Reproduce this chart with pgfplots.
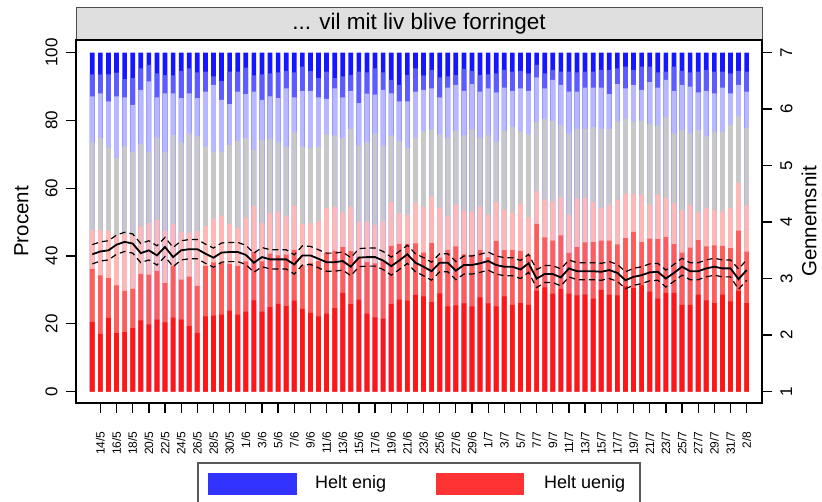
\documentclass[border=0pt]{standalone}
\usepackage{fontspec}
\setmainfont{Liberation Sans}
\usepackage{pgfplots}
\usepackage{pgfplotstable}
\pgfplotsset{compat=1.18}

% shades from "Helt uenig" (1) to "Helt enig" (7)
\definecolor{c1}{RGB}{255,22,22}
\definecolor{c2}{RGB}{255,92,92}
\definecolor{c3}{RGB}{255,184,184}
\definecolor{c4}{RGB}{200,200,200}
\definecolor{c5}{RGB}{184,184,255}
\definecolor{c6}{RGB}{92,92,255}
\definecolor{c7}{RGB}{22,22,255}
\definecolor{legblue}{RGB}{51,51,255}
\definecolor{legred}{RGB}{255,51,51}

% cumulative shares (b1..b6, top), daily mean and its interval
\pgfplotstableread{
x b1 b2 b3 b4 b5 b6 top m lo hi
0 20.5 36.1 47.7 73.5 87.1 93.6 100 3.43 3.26 3.60
1 17.0 34.3 47.7 74.8 88.0 93.6 100 3.48 3.31 3.65
2 21.7 33.5 47.4 72.0 85.6 93.6 100 3.50 3.33 3.67
3 17.2 31.3 46.1 68.9 87.1 94.1 100 3.60 3.43 3.77
4 17.5 29.7 46.5 72.3 86.8 92.2 100 3.65 3.48 3.82
5 18.7 30.3 46.3 70.8 84.6 92.5 100 3.62 3.45 3.79
6 21.0 34.7 48.7 73.1 89.0 95.4 100 3.45 3.28 3.62
7 19.8 34.5 49.7 70.8 91.5 96.4 100 3.50 3.33 3.67
8 21.2 35.6 50.7 75.0 86.8 93.9 100 3.41 3.24 3.58
9 20.4 32.0 47.4 70.8 88.0 93.4 100 3.56 3.39 3.73
10 21.8 37.1 49.4 75.7 88.0 93.3 100 3.38 3.21 3.55
11 21.2 33.0 47.1 73.5 86.6 94.6 100 3.50 3.33 3.67
12 19.4 33.9 46.8 76.2 88.0 95.4 100 3.52 3.35 3.69
13 17.3 31.2 47.4 75.3 86.6 94.2 100 3.52 3.35 3.69
14 22.2 37.1 48.8 72.3 88.5 94.4 100 3.44 3.27 3.61
15 22.4 38.1 50.9 70.6 90.5 93.0 100 3.37 3.20 3.54
16 22.7 37.9 51.9 70.8 86.1 91.7 100 3.46 3.29 3.63
17 23.9 37.7 49.4 72.8 84.8 94.4 100 3.47 3.30 3.64
18 22.7 37.1 48.4 74.0 88.5 94.4 100 3.47 3.30 3.64
19 23.6 38.4 51.3 74.8 87.8 95.6 100 3.42 3.25 3.59
20 26.9 41.2 54.8 71.3 88.5 93.3 100 3.28 3.11 3.45
21 23.6 38.4 49.8 74.3 86.1 93.6 100 3.38 3.21 3.55
22 24.9 40.7 52.7 74.6 87.1 93.9 100 3.34 3.17 3.51
23 25.9 40.2 53.0 73.6 86.6 94.2 100 3.34 3.17 3.51
24 25.2 40.4 51.7 72.2 89.5 94.6 100 3.34 3.17 3.51
25 26.8 41.7 54.9 76.5 86.8 94.2 100 3.25 3.08 3.42
26 24.4 37.2 49.4 72.1 88.7 95.9 100 3.41 3.24 3.58
27 23.2 38.0 49.7 71.8 88.7 94.6 100 3.41 3.25 3.57
28 22.2 38.5 50.2 72.1 86.8 92.5 100 3.35 3.19 3.51
29 23.0 41.0 54.1 75.9 86.4 94.4 100 3.29 3.13 3.45
30 24.6 41.5 54.6 75.6 89.5 92.5 100 3.29 3.13 3.45
31 29.1 42.6 52.9 74.8 86.8 93.0 100 3.31 3.15 3.47
32 25.8 41.4 54.6 77.5 88.7 93.4 100 3.21 3.05 3.37
33 27.1 39.8 50.0 72.6 85.1 94.4 100 3.37 3.21 3.53
34 23.0 38.2 50.2 73.6 87.9 94.2 100 3.38 3.22 3.54
35 21.9 37.8 49.2 76.2 87.6 95.4 100 3.38 3.22 3.54
36 21.5 38.6 50.2 72.6 89.0 94.2 100 3.32 3.16 3.48
37 25.8 43.0 55.9 75.6 88.0 92.0 100 3.22 3.06 3.38
38 27.1 43.6 52.7 74.0 85.6 90.5 100 3.32 3.16 3.48
39 26.8 43.6 52.2 71.8 85.6 93.4 100 3.43 3.27 3.59
40 28.5 43.7 55.6 74.8 88.5 95.4 100 3.28 3.12 3.44
41 28.1 41.0 54.6 76.9 89.0 93.3 100 3.21 3.05 3.37
42 26.4 43.8 57.6 77.3 89.5 94.9 100 3.13 2.97 3.29
43 29.0 39.5 54.3 75.9 86.8 92.7 100 3.28 3.12 3.44
44 25.1 41.8 51.7 74.8 89.7 93.0 100 3.28 3.12 3.44
45 25.4 42.8 55.1 76.9 90.5 93.4 100 3.14 2.98 3.30
46 26.0 40.5 53.4 75.6 88.7 95.2 100 3.24 3.08 3.40
47 25.1 40.3 53.0 77.4 90.7 94.6 100 3.24 3.08 3.40
48 27.8 41.7 54.6 74.8 88.5 93.4 100 3.27 3.11 3.43
49 26.0 39.6 52.2 75.6 89.5 93.6 100 3.31 3.15 3.47
50 25.1 44.4 55.8 73.8 88.3 93.9 100 3.24 3.08 3.40
51 28.1 41.7 53.7 76.9 89.7 94.9 100 3.21 3.05 3.37
52 25.6 41.7 52.7 78.2 88.7 94.4 100 3.21 3.05 3.37
53 26.1 41.5 55.3 76.7 89.5 94.6 100 3.16 3.00 3.32
54 25.6 40.3 51.4 75.9 88.7 93.9 100 3.27 3.11 3.43
55 29.8 49.5 59.1 79.5 92.7 96.4 100 3.00 2.84 3.16
56 30.7 45.5 56.6 80.5 89.5 93.9 100 3.08 2.93 3.23
57 28.9 44.5 56.1 79.9 92.0 94.9 100 3.08 2.93 3.23
58 30.3 46.1 57.3 78.7 90.5 94.4 100 3.02 2.87 3.17
59 28.9 40.9 52.2 76.2 88.5 94.4 100 3.18 3.03 3.33
60 28.4 42.6 56.9 77.5 88.5 94.2 100 3.13 2.98 3.28
61 28.6 44.0 57.1 77.5 89.7 94.4 100 3.13 2.98 3.28
62 27.4 44.1 55.9 78.1 89.7 94.4 100 3.13 2.98 3.28
63 30.0 44.5 54.3 77.5 89.7 94.9 100 3.12 2.97 3.27
64 28.6 44.5 55.1 77.5 87.8 94.9 100 3.15 3.00 3.30
65 28.4 43.4 56.6 79.7 90.7 95.4 100 3.10 2.95 3.25
66 31.0 45.3 58.4 80.5 89.5 95.9 100 2.97 2.82 3.12
67 30.5 47.1 58.4 79.5 90.5 94.9 100 3.03 2.88 3.18
68 31.3 44.1 58.1 79.9 89.0 95.9 100 3.06 2.91 3.21
69 29.5 45.1 55.1 78.9 91.3 95.9 100 3.11 2.96 3.26
70 27.4 45.0 58.1 78.5 89.7 94.2 100 3.12 2.97 3.27
71 29.1 45.6 57.1 81.0 92.0 94.4 100 3.00 2.85 3.15
72 29.1 43.5 55.6 76.2 88.7 95.9 100 3.10 2.95 3.25
73 25.6 41.0 53.6 77.2 90.5 94.6 100 3.21 3.06 3.36
74 25.6 42.5 55.1 76.2 90.0 94.2 100 3.13 2.98 3.28
75 28.6 44.7 52.9 77.2 88.3 94.4 100 3.13 2.98 3.28
76 26.9 42.8 54.1 75.3 88.7 94.9 100 3.18 3.03 3.33
77 26.1 43.1 53.6 76.7 88.0 94.4 100 3.21 3.06 3.36
78 28.6 43.0 53.1 76.7 89.7 94.4 100 3.18 3.03 3.33
79 26.6 42.3 54.1 78.7 88.0 93.9 100 3.18 3.03 3.33
80 29.7 47.5 61.5 81.2 90.5 94.6 100 2.99 2.81 3.17
81 26.1 41.3 55.1 77.8 88.5 94.4 100 3.15 2.97 3.33
}\daily

\pgfplotsset{
  frame/.style={
    at={(76pt,99pt)}, anchor=south west, scale only axis,
    width=686pt, height=363pt,
    xmin=-2.02, xmax=82.9,
    axis line style={black, line width=2pt},
    tick align=outside, major tick length=10pt,
    every tick/.style={black, line width=1.3pt},
    /pgf/number format/assume math mode=true,
    label style={font=\fontsize{20.5}{20.5}\selectfont},
  },
  seg/.style={ybar, bar width=0.58, bar shift=0pt, draw=none, fill=#1},
}

\begin{document}
\begin{tikzpicture}
\path[use as bounding box] (0pt,0pt) rectangle (822pt,502pt);
\draw[fill=gray!25, draw=gray!60!black, line width=1pt] (76pt,462pt) rectangle (762pt,494pt);
\node[font=\fontsize{22.5}{22.5}\selectfont] at (419pt,478pt) {... vil mit liv blive forringet};

\begin{axis}[frame,
  ymin=-3.39, ymax=103.75,
  ytick={0,20,...,100}, ytick pos=left,
  xtick={1,3,...,81}, xtick pos=bottom,
  xticklabels={14/5,16/5,18/5,20/5,22/5,24/5,26/5,28/5,30/5,1/6,3/6,5/6,7/6,9/6,11/6,13/6,15/6,17/6,19/6,21/6,23/6,25/6,27/6,29/6,1/7,3/7,5/7,7/7,9/7,11/7,13/7,15/7,17/7,19/7,21/7,23/7,25/7,27/7,29/7,31/7,2/8},
  yticklabel style={rotate=90, anchor=south, font=\fontsize{17}{17}\selectfont},
  yticklabel shift=5pt,
  xticklabel style={rotate=90, anchor=east, font=\fontsize{12}{12}\selectfont},
  xticklabel shift=15pt,
  ylabel={Procent},
  ylabel style={at={(axis description cs:0,0.5)}, anchor=south, yshift=44pt},
]
\addplot[seg=c7] table[x=x, y=top] {\daily};
\addplot[seg=c6] table[x=x, y=b6] {\daily};
\addplot[seg=c5] table[x=x, y=b5] {\daily};
\addplot[seg=c4] table[x=x, y=b4] {\daily};
\addplot[seg=c3] table[x=x, y=b3] {\daily};
\addplot[seg=c2] table[x=x, y=b2] {\daily};
\addplot[seg=c1] table[x=x, y=b1] {\daily};
\end{axis}

\begin{axis}[frame,
  ymin=0.7965, ymax=7.2248,
  axis x line=none, axis y line*=right,
  ytick={1,...,7},
  yticklabel style={rotate=90, anchor=north, font=\fontsize{17}{17}\selectfont},
  yticklabel shift=5pt,
  ylabel={Gennemsnit},
  ylabel style={at={(axis description cs:1,0.5)}, anchor=north, yshift=-36pt},
]
\addplot[black, line width=1.2pt, dash pattern=on 6pt off 4pt] table[x=x, y=hi] {\daily};
\addplot[black, line width=1.2pt, dash pattern=on 6pt off 4pt] table[x=x, y=lo] {\daily};
\addplot[black, line width=1.8pt] table[x=x, y=m] {\daily};
\end{axis}

% legend box (its lower edge lies below the picture, as in the original)
\draw[gray!70!black, line width=1.5pt] (198pt,39pt) rectangle (640pt,-12pt);
\fill[legblue] (208pt,7pt) rectangle (297pt,29pt);
\node[anchor=west, inner sep=0pt, font=\fontsize{18}{18}\selectfont] at (315pt,18pt) {Helt enig};
\fill[legred] (436pt,7pt) rectangle (524pt,29pt);
\node[anchor=west, inner sep=0pt, font=\fontsize{18}{18}\selectfont] at (544pt,18pt) {Helt uenig};
\end{tikzpicture}
\end{document}
